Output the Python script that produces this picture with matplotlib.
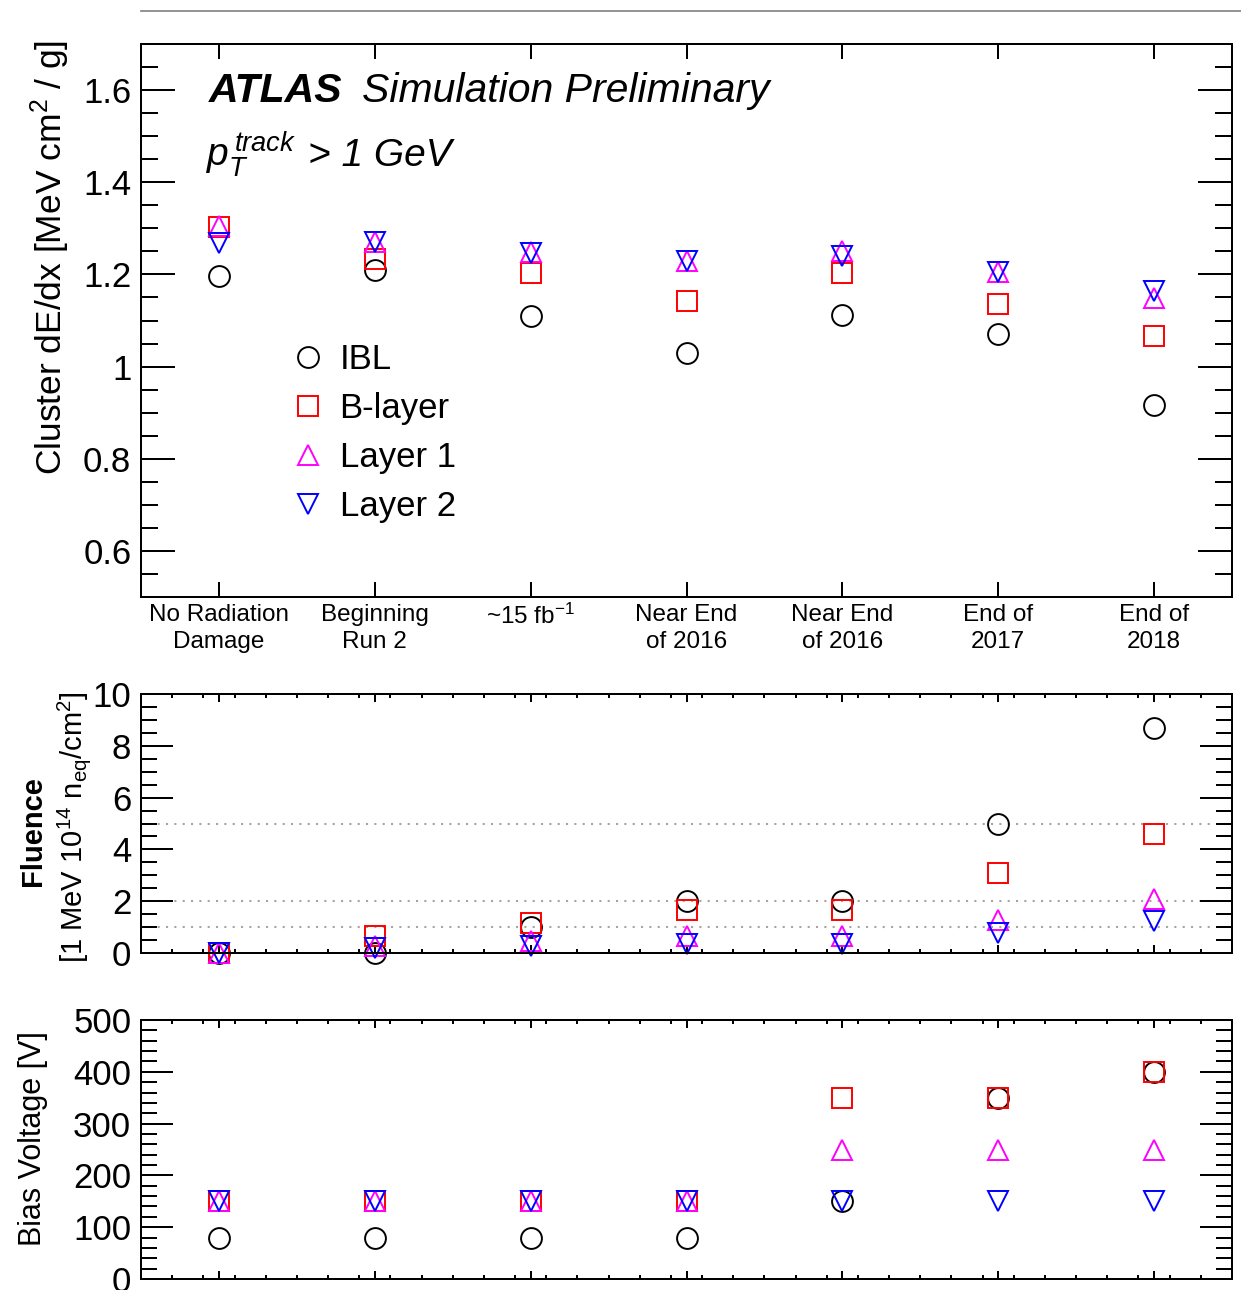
import numpy as np
import matplotlib
matplotlib.use("Agg")
import matplotlib.pyplot as plt
from matplotlib.lines import Line2D
from matplotlib.ticker import MultipleLocator, FixedLocator, NullFormatter, FuncFormatter

plt.rcParams['font.family'] = ['Liberation Sans', 'DejaVu Sans']
plt.rcParams['mathtext.fontset'] = 'custom'
plt.rcParams['mathtext.rm'] = 'Liberation Sans'
plt.rcParams['mathtext.it'] = 'Liberation Sans:italic'
plt.rcParams['mathtext.bf'] = 'Liberation Sans:bold'

# scenarios along the x axis
categories = ["No Radiation\nDamage", "Beginning\nRun 2", r"~15 fb$^{-1}$",
              "Near End\nof 2016", "Near End\nof 2016", "End of\n2017", "End of\n2018"]
layers = ["IBL", "B-layer", "Layer 1", "Layer 2"]

# cluster dE/dx [MeV cm2 / g]
dedx_ibl = [1.196, 1.210, 1.110, 1.030, 1.112, 1.070, 0.917]
dedx_blayer = [1.302, 1.234, 1.202, 1.142, 1.204, 1.135, 1.066]
dedx_layer1 = [1.304, 1.271, 1.248, 1.230, 1.251, 1.205, 1.148]
dedx_layer2 = [1.269, 1.271, 1.247, 1.230, 1.239, 1.205, 1.163]

# fluence [1 MeV 1e14 neq / cm2]
flu_ibl = [0.0, 0.0, 1.0, 2.0, 2.0, 5.0, 8.7]
flu_blayer = [0.0, 0.65, 1.16, 1.66, 1.66, 3.07, 4.58]
flu_layer1 = [0.0, 0.28, 0.46, 0.65, 0.65, 1.27, 2.08]
flu_layer2 = [0.0, 0.19, 0.28, 0.36, 0.36, 0.76, 1.25]
flu_ref_lines = [1.0, 2.0, 5.0]

# bias voltage [V]
hv_ibl = [80, 80, 80, 80, 150, 350, 400]
hv_blayer = [150, 150, 150, 150, 350, 350, 400]
hv_layer1 = [150, 150, 150, 150, 250, 250, 250]
hv_layer2 = [150, 150, 150, 150, 150, 150, 150]

colors = ["black", "#ff0000", "#ff00ff", "#0000ff"]
markers = ["o", "s", "^", "v"]

W, H = 1241, 1290
fig = plt.figure(figsize=(W / 100, H / 100), dpi=100)
px = 72.0 / 100  # points per pixel

ax1 = fig.add_axes([141 / W, 1 - 597 / H, 1091 / W, 553 / H])
ax2 = fig.add_axes([141 / W, 1 - 953 / H, 1091 / W, 259 / H])
ax3 = fig.add_axes([141 / W, 1 - 1279 / H, 1091 / W, 259 / H])

xpos = np.arange(len(categories)) + 0.5


def draw_series(ax, series):
    handles = []
    for vals, c, m, lab in zip(series, colors, markers, layers):
        h, = ax.plot(xpos, vals, linestyle="none", marker=m, markersize=15,
                     markerfacecolor="none", markeredgecolor=c, markeredgewidth=1.4,
                     label=lab, clip_on=False)
        handles.append(h)
    return handles


def style_axes(ax, ymaj_len, ymin_len, xmaj_len, xmin_len):
    for sp in ax.spines.values():
        sp.set_linewidth(2 * px)
    ax.set_xlim(0, len(categories))
    ax.xaxis.set_major_locator(FixedLocator(xpos))
    ax.tick_params(axis="both", which="both", direction="in", top=True, right=True,
                   width=2 * px, labelsize=25)
    ax.tick_params(axis="y", which="major", length=ymaj_len * px, pad=7)
    ax.tick_params(axis="y", which="minor", length=ymin_len * px)
    ax.tick_params(axis="x", which="major", length=xmaj_len * px)
    ax.tick_params(axis="x", which="minor", length=xmin_len * px)


# ---- top panel: dE/dx
h = draw_series(ax1, [dedx_ibl, dedx_blayer, dedx_layer1, dedx_layer2])
ax1.set_ylim(0.5, 1.7)
ax1.yaxis.set_major_locator(MultipleLocator(0.2))
ax1.yaxis.set_minor_locator(MultipleLocator(0.05))
ax1.yaxis.set_major_formatter(FuncFormatter(lambda v, p: "%g" % round(v, 2)))
style_axes(ax1, 34, 17, 15, 0)
ax1.set_xticklabels(categories, fontsize=17.5, linespacing=1.3)
ax1.tick_params(axis="x", which="major", pad=5)
ax1.legend(handles=h, loc="upper left", bbox_to_anchor=(291 / W, 1 - 343 / H),
           bbox_transform=fig.transFigure, frameon=False, fontsize=25, numpoints=1,
           handlelength=1.0, handletextpad=0.4, labelspacing=0.46, borderpad=0,
           borderaxespad=0)

fig.text(209 / W, 1 - 102 / H, "ATLAS", fontsize=29.5, weight="bold", style="italic",
         va="baseline")
fig.text(362 / W, 1 - 102 / H, "Simulation Preliminary", fontsize=29.5, style="italic",
         va="baseline")
fig.text(206 / W, 1 - 166 / H, r"$p_{T}^{\,track}$", fontsize=28, va="baseline")
fig.text(308 / W, 1 - 166 / H, "> 1 GeV", fontsize=28, style="italic", va="baseline")
fig.text(50 / W, 1 - 40 / H, r"Cluster dE/dx [MeV cm$^{2}$ / g]", fontsize=25.5,
         rotation=90, ha="center", va="top")

# ---- middle panel: fluence
for yv in flu_ref_lines:
    ax2.axhline(yv, color="#aaa49c", linestyle=(0, (1, 3)), linewidth=1.5, zorder=0)
draw_series(ax2, [flu_ibl, flu_blayer, flu_layer1, flu_layer2])
ax2.set_ylim(0, 10)
ax2.yaxis.set_major_locator(MultipleLocator(2))
ax2.yaxis.set_minor_locator(MultipleLocator(0.5))
ax2.xaxis.set_minor_locator(MultipleLocator(0.2))
ax2.xaxis.set_major_formatter(NullFormatter())
style_axes(ax2, 32, 16, 8, 4)
fig.text(33 / W, 1 - 831 / H, "Fluence", fontsize=21, weight="bold", rotation=90,
         ha="center", va="center")
fig.text(74 / W, 1 - 827 / H, r"[1 MeV 10$^{14}$ n$_{\mathrm{eq}}$/cm$^{2}$]",
         fontsize=21, rotation=90, ha="center", va="center")

# ---- bottom panel: bias voltage
draw_series(ax3, [hv_ibl, hv_blayer, hv_layer1, hv_layer2])
ax3.set_ylim(0, 500)
ax3.yaxis.set_major_locator(MultipleLocator(100))
ax3.yaxis.set_minor_locator(MultipleLocator(20))
ax3.xaxis.set_minor_locator(MultipleLocator(0.2))
ax3.xaxis.set_major_formatter(NullFormatter())
style_axes(ax3, 32, 16, 8, 4)
fig.text(33 / W, 1 - 1139 / H, "Bias Voltage [V]", fontsize=22, rotation=90,
         ha="center", va="center")

# thin separator line at the very top
fig.add_artist(Line2D([141 / W, 1.0], [1 - 11 / H, 1 - 11 / H], color="#808080",
                      linewidth=1.2, transform=fig.transFigure))

fig.savefig("out.png", dpi=100)
